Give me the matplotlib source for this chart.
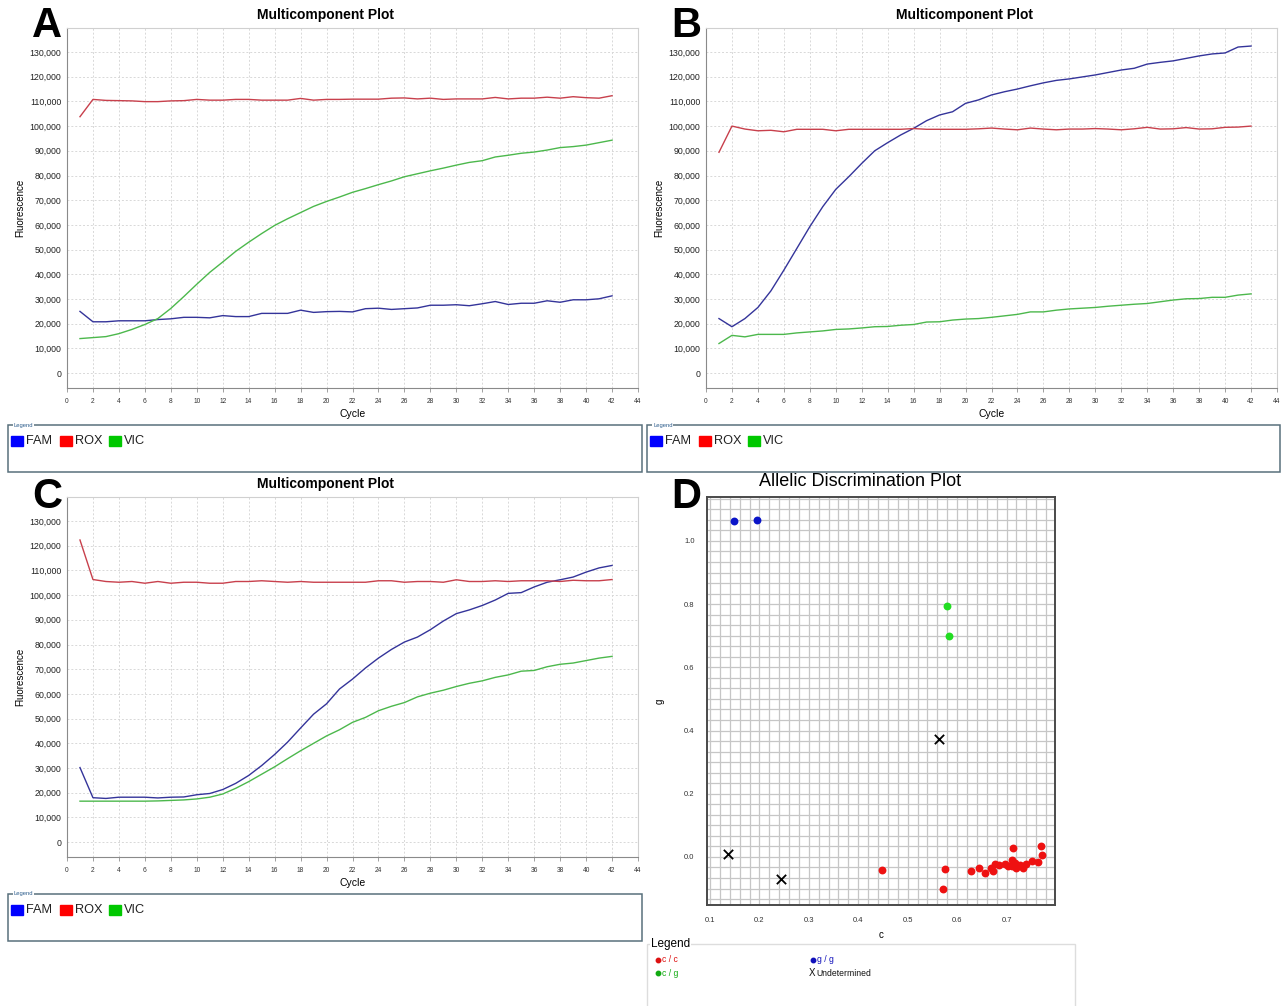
import numpy as np
import matplotlib
matplotlib.use('Agg')
import matplotlib.pyplot as plt
from matplotlib.patches import Rectangle
from matplotlib.ticker import MultipleLocator

plt.rcParams['font.family'] = ['Liberation Sans', 'DejaVu Sans']

# ---- data ----
cycles = list(range(1, 43))
dyes = ['FAM', 'ROX', 'VIC']

a_fam = [25000, 20800, 20800, 21200, 21200, 21200, 21700, 22000, 22600, 22600,
         22400, 23300, 22900, 22900, 24200, 24200, 24200, 25500, 24600, 24900,
         25000, 24800, 26100, 26300, 25800, 26100, 26400, 27500, 27500, 27700,
         27300, 28100, 29000, 27800, 28300, 28300, 29300, 28700, 29700, 29700,
         30100, 31300]
a_rox = [103800, 110800, 110400, 110300, 110200, 109900, 109900, 110200, 110300, 110800,
         110500, 110500, 110800, 110800, 110500, 110500, 110500, 111200, 110500, 110800,
         110800, 110900, 110900, 110900, 111300, 111400, 111000, 111300, 110800, 111000,
         111000, 111000, 111600, 111000, 111300, 111300, 111700, 111300, 111900, 111500,
         111300, 112300]
a_vic = [14000, 14400, 14800, 16000, 17700, 19700, 22100, 26200, 31000, 36000,
         40800, 45000, 49300, 53000, 56500, 59800, 62500, 65000, 67500, 69500,
         71300, 73200, 74700, 76300, 77800, 79500, 80700, 81900, 83000, 84200,
         85300, 86000, 87500, 88200, 89000, 89500, 90300, 91300, 91700, 92300,
         93300, 94300]

b_fam = [22100, 18800, 22100, 26600, 33300, 41700, 50500, 59300, 67400, 74400,
         79500, 84900, 90000, 93300, 96400, 99100, 102200, 104500, 105800, 109200,
         110600, 112600, 113900, 115000, 116300, 117500, 118500, 119100, 119900, 120700,
         121700, 122700, 123400, 125100, 125800, 126400, 127400, 128400, 129200, 129600,
         132000, 132400]
b_rox = [89400, 100000, 98800, 98100, 98300, 97700, 98700, 98700, 98700, 98100,
         98700, 98700, 98700, 98700, 98700, 99000, 98700, 98700, 98700, 98700,
         98900, 99200, 98800, 98500, 99200, 98800, 98500, 98800, 98800, 99000,
         98800, 98500, 98900, 99500, 98800, 98900, 99400, 98800, 98900, 99500,
         99600, 100000]
b_vic = [12000, 15300, 14700, 15700, 15700, 15700, 16300, 16700, 17100, 17700,
         17900, 18300, 18800, 18900, 19400, 19700, 20700, 20800, 21500, 21900,
         22100, 22600, 23200, 23800, 24800, 24800, 25500, 26000, 26300, 26600,
         27100, 27500, 27900, 28200, 28900, 29600, 30100, 30200, 30700, 30700,
         31600, 32100]

c_fam = [30200, 18000, 17700, 18200, 18200, 18200, 17900, 18200, 18300, 19200,
         19700, 21300, 23800, 27000, 31000, 35500, 40500, 46200, 51800, 56000,
         62000, 66000, 70500, 74500, 78000, 81000, 83000, 86000, 89500, 92500,
         94000, 95800, 98000, 100700, 101000, 103300, 105200, 106200, 107300, 109300,
         111000, 112000]
c_rox = [122300, 106300, 105500, 105200, 105500, 104800, 105500, 104800, 105200, 105200,
         104800, 104800, 105500, 105500, 105800, 105500, 105200, 105500, 105200, 105200,
         105200, 105200, 105200, 105800, 105800, 105200, 105500, 105500, 105200, 106200,
         105500, 105500, 105800, 105500, 105800, 105800, 105800, 105500, 106000, 105800,
         105800, 106300]
c_vic = [16600, 16600, 16600, 16600, 16600, 16600, 16700, 16900, 17100, 17500,
         18200, 19500, 21800, 24500, 27500, 30500, 33800, 37000, 40000, 43000,
         45500, 48500, 50500, 53200, 55000, 56500, 58800, 60300, 61500, 63000,
         64300, 65300, 66700, 67700, 69200, 69500, 71000, 72000, 72500, 73500,
         74500, 75200]

fluor_ticks = list(range(0, 130001, 10000))
fluor_labels = ['{:,}'.format(v) for v in fluor_ticks]
cycle_ticks = list(range(0, 45, 2))

# allelic discrimination (x = allele c, y = allele g)
cc_x = [0.448, 0.572, 0.575, 0.629, 0.645, 0.656, 0.668, 0.673, 0.676, 0.685,
        0.697, 0.703, 0.710, 0.710, 0.713, 0.717, 0.720, 0.727, 0.734, 0.739,
        0.751, 0.764, 0.769, 0.771]
cc_y = [-0.040, -0.101, -0.038, -0.044, -0.034, -0.051, -0.034, -0.044, -0.023, -0.027,
        -0.023, -0.030, -0.010, -0.030, 0.027, -0.020, -0.036, -0.025, -0.034, -0.022,
        -0.013, -0.017, 0.035, 0.006]
cg_x = [0.579, 0.583]
cg_y = [0.795, 0.699]
gg_x = [0.1485, 0.195]
gg_y = [1.063, 1.066]
und_x = [0.563, 0.136, 0.244]
und_y = [0.372, 0.010, -0.071]
disc_xticks = [0.1, 0.2, 0.3, 0.4, 0.5, 0.6, 0.7]
disc_yticks = [0.0, 0.2, 0.4, 0.6, 0.8, 1.0]

line_cols = ['#34349a', '#c8404c', '#4cb84c']
key_cols = ['#0000ff', '#ff0000', '#00c800']

W, H = 1286, 1006
fig = plt.figure(figsize=(W / 100, H / 100), dpi=100)


def box(x0, y0, x1, y1):
    # pixel box (top-left origin) -> figure fraction
    return [x0 / W, 1 - y1 / H, (x1 - x0) / W, (y1 - y0) / H]


def fx(x):
    return x / W


def fy(y):
    return 1 - y / H


def multicomponent(x0, y0, x1, y1, series):
    ax = fig.add_axes(box(x0, y0, x1, y1))
    for vals, col in zip(series, line_cols):
        ax.plot(cycles, vals, color=col, lw=1.0)
    ax.set_xlim(0, 44)
    ax.set_ylim(-6000, 139700)
    ax.set_xticks(cycle_ticks)
    ax.set_yticks(fluor_ticks)
    ax.set_yticklabels(fluor_labels)
    ax.grid(color='#d8d8d8', lw=0.7, linestyle=(0, (2, 2)))
    ax.tick_params(axis='x', labelsize=4.8, length=3, width=0.6, color='#909090',
                   labelcolor='#333333', pad=4)
    ax.tick_params(axis='y', labelsize=6.3, length=0, labelcolor='#222222', pad=4)
    for s in ['left', 'bottom']:
        ax.spines[s].set_color('#8a8a8a')
    for s in ['top', 'right']:
        ax.spines[s].set_color('#d0d0d0')
    ax.set_xlabel('Cycle', fontsize=7.5, labelpad=3)
    ax.set_ylabel('Fluorescence', fontsize=7, labelpad=3)
    fig.text(fx((x0 + x1) / 2 - 27), fy(15 + y0 - 28), 'Multicomponent Plot',
             weight='bold', fontsize=10, ha='center', va='center')
    return ax


def dye_legend(x0, y0, x1, y1):
    fig.patches.append(Rectangle((fx(x0), fy(y1)), (x1 - x0) / W, (y1 - y0) / H,
                                 transform=fig.transFigure, fill=False,
                                 ec='#58707c', lw=1.1))
    fig.text(fx(x0 + 6), fy(y0), 'Legend', fontsize=4.2, color='#2d5d8c',
             va='center', bbox=dict(facecolor='white', edgecolor='none', pad=0.6))
    for i, (name, col) in enumerate(zip(dyes, key_cols)):
        sx = x0 + 3 + 49 * i
        fig.patches.append(Rectangle((fx(sx), fy(y0 + 21)), 12 / W, 10 / H,
                                     transform=fig.transFigure, color=col))
        fig.text(fx(sx + 15), fy(y0 + 16), name, fontsize=9.2, va='center',
                 color='#222222')


multicomponent(67, 28, 638, 388, [a_fam, a_rox, a_vic])
multicomponent(706, 28, 1277, 388, [b_fam, b_rox, b_vic])
multicomponent(67, 497, 638, 857, [c_fam, c_rox, c_vic])

dye_legend(8, 425, 642, 472)
dye_legend(647, 425, 1280, 472)
dye_legend(8, 894, 642, 941)

# panel D - allelic discrimination
axd = fig.add_axes(box(707, 497, 1055, 905))
axd.scatter(cc_x, cc_y, s=32, color='#ee1111', zorder=3, linewidths=0)
axd.scatter(cg_x, cg_y, s=32, color='#22dd22', zorder=3, linewidths=0)
axd.scatter(gg_x, gg_y, s=32, color='#0a14c8', zorder=3, linewidths=0)
axd.scatter(und_x, und_y, s=45, marker='x', color='black', zorder=3, linewidths=1.3)
axd.set_xlim(0.094, 0.798)
axd.set_ylim(-0.152, 1.139)
axd.set_xticks(disc_xticks)
axd.set_xticklabels(['{:.1f}'.format(v) for v in disc_xticks])
axd.set_yticks(disc_yticks)
axd.set_yticklabels(['{:.1f}'.format(v) for v in disc_yticks])
axd.xaxis.set_minor_locator(MultipleLocator(0.02))
axd.yaxis.set_minor_locator(MultipleLocator(0.2 / 6))
axd.grid(which='both', color='#c6c6c6', lw=0.9)
axd.set_axisbelow(True)
axd.tick_params(which='both', length=0, labelsize=5.5, labelcolor='#333333', pad=9)
for s in axd.spines.values():
    s.set_color('#4a4a4a')
    s.set_linewidth(1.4)
axd.set_xlabel('c', fontsize=7, labelpad=4)
axd.set_ylabel('g', fontsize=7, labelpad=14)
fig.text(fx(860), fy(481), 'Allelic Discrimination Plot', fontsize=13,
         ha='center', va='center')

# allelic legend
fig.patches.append(Rectangle((fx(647), fy(1010)), 428 / W, 66 / H,
                             transform=fig.transFigure, fill=False,
                             ec='#dddddd', lw=1))
fig.text(fx(651), fy(944), 'Legend', fontsize=8.5, va='center',
         bbox=dict(facecolor='white', edgecolor='none', pad=0.5))
calls = [('c / c', '#dd1111', 658, 960, 'o'), ('c / g', '#11aa11', 658, 973, 'o'),
         ('g / g', '#1111bb', 813, 960, 'o'), ('Undetermined', '#111111', 812, 973, 'x')]
for lab, col, x, y, mk in calls:
    if mk == 'o':
        fig.lines.append(plt.Line2D([fx(x)], [fy(y)], marker='o', ms=3.2, color=col,
                                    transform=fig.transFigure, lw=0))
    else:
        fig.text(fx(x - 3), fy(y), 'X', fontsize=7, color=col, va='center')
    fig.text(fx(x + 4), fy(y), lab, fontsize=6.2, color=col, va='center')

# panel letters
for letter, x, y in [('A', 47, 26), ('B', 686, 26), ('C', 47, 497), ('D', 686, 497)]:
    fig.text(fx(x), fy(y), letter, fontsize=30, weight='bold', ha='center',
             va='center')

fig.savefig('out.png', dpi=100)
